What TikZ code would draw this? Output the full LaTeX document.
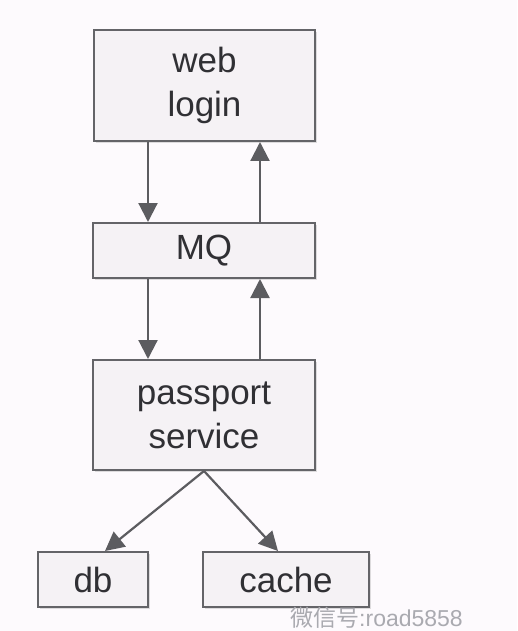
\documentclass[tikz,border=0pt]{standalone}
\usepackage{fontspec}
\setmainfont{Liberation Sans}
\newfontfamily\cjkfont{Noto Sans CJK SC}
\definecolor{bgpage}{RGB}{253, 250, 253}
\definecolor{boxfill}{RGB}{245, 242, 245}
\definecolor{boxline}{RGB}{100, 100, 104}
\definecolor{arrline}{RGB}{92, 92, 96}
\definecolor{txt}{RGB}{48, 48, 52}
\definecolor{wmark}{RGB}{170, 170, 176}
\usetikzlibrary{arrows.meta, positioning, shadows}

\begin{document}
\begin{tikzpicture}[x=1pt, y=-1pt,
    box/.style={draw=boxline, fill=boxfill, line width=2pt, text=txt,
      align=center, inner sep=0pt, font=\fontsize{35}{44}\selectfont,
      drop shadow={shadow xshift=2pt, shadow yshift=-2pt, opacity=0.25}},
    arr/.style={draw=arrline, line width=2.2pt,
      -{Triangle[length=19pt, width=19pt]}}]
  \useasboundingbox[fill=bgpage] (0,0) rectangle (517,631);

  % boxes
  \node[box, minimum width=221pt, minimum height=111pt] (web) at (204.5, 85.5) {web\\login};
  \node[box, minimum width=222pt, minimum height=55pt] (mq) at (204, 250.5) {MQ};
  \node[box, minimum width=222pt, minimum height=110pt] (pass) at (204, 415) {passport\\service};
  \node[box, minimum width=110pt, minimum height=55pt] (db) at (93, 579.5) {db};
  \node[box, minimum width=166pt, minimum height=55pt] (cache) at (286, 579.5) {cache};

  % arrows
  \draw[arr] ([xshift=55pt]web.south west) -- ([xshift=56pt]mq.north west);
  \draw[arr] ([xshift=-56pt]mq.north east) -- ([xshift=-56pt]web.south east);
  \draw[arr] ([xshift=56pt]mq.south west) -- ([xshift=56pt]pass.north west);
  \draw[arr] ([xshift=-56pt]pass.north east) -- ([xshift=-56pt]mq.south east);
  \draw[arr] (pass.south) -- ([xshift=12pt]db.north);
  \draw[arr] (pass.south) -- ([xshift=-8pt]cache.north);

  % watermark
  \node[text=wmark, font=\fontsize{23}{26}\selectfont, inner sep=0pt, anchor=west]
    (watermark) at (290, 618) {{\cjkfont 微信号}:road5858};
\end{tikzpicture}
\end{document}
